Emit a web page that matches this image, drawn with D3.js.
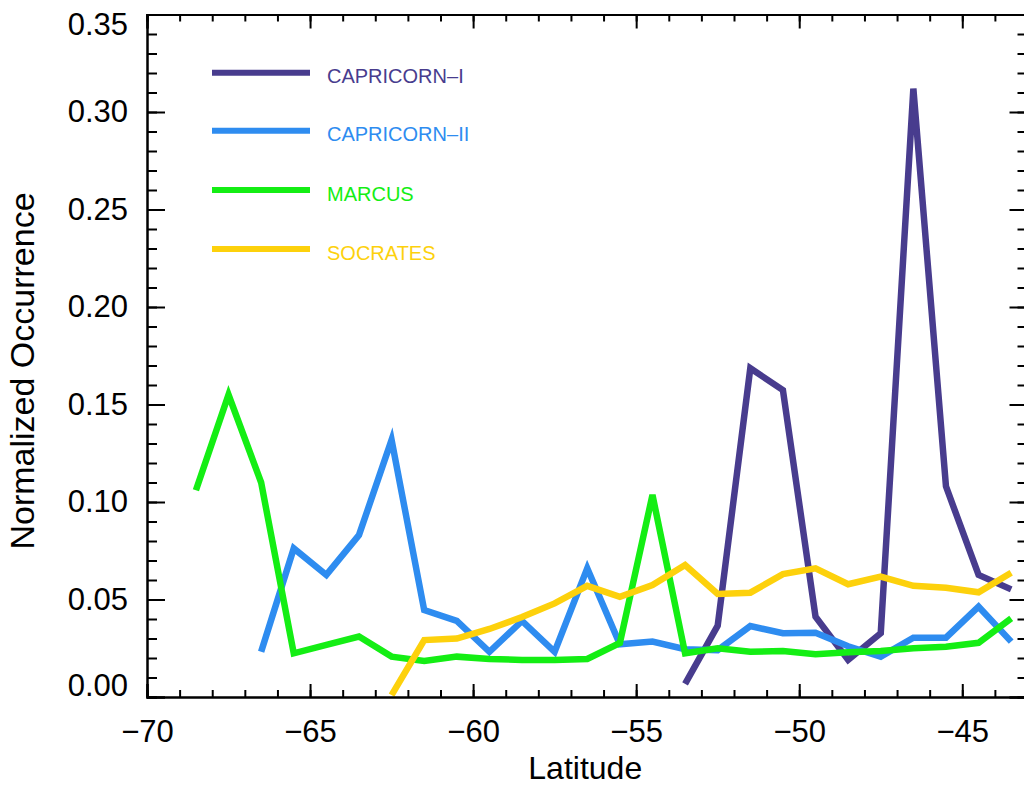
<!DOCTYPE html>
<html>
<head>
<meta charset="utf-8">
<script src="https://cdn.jsdelivr.net/npm/d3@7"></script>
<style>
  html, body { margin: 0; padding: 0; background: #fff; }
  svg { display: block; font-family: "Liberation Sans", Arial, sans-serif; }
</style>
</head>
<body>
<svg id="chart" width="1024" height="787"></svg>
<script>
// Latitude bin centres (degrees)
const latitudes = [-68.5, -67.5, -66.5, -65.5, -64.5, -63.5, -62.5, -61.5, -60.5, -59.5,
                   -58.5, -57.5, -56.5, -55.5, -54.5, -53.5, -52.5, -51.5, -50.5, -49.5,
                   -48.5, -47.5, -46.5, -45.5, -44.5, -43.5];

// Normalized occurrence per campaign (null = no samples in that bin)
const capricorn1 = [null, null, null, null, null, null, null, null, null, null,
                    null, null, null, null, null, 0.0067, 0.0366, 0.1686, 0.1574, 0.0412,
                    0.019, 0.0327, 0.312, 0.108, 0.0626, 0.0552];
const capricorn2 = [null, null, 0.0232, 0.0762, 0.0626, 0.083, 0.1318, 0.0446, 0.039, 0.0232,
                    0.039, 0.0232, 0.066, 0.027, 0.0284, 0.0245, 0.024, 0.0364, 0.0327, 0.033,
                    0.026, 0.0207, 0.0304, 0.0304, 0.0463, 0.0284];
const marcus     = [0.106, 0.155, 0.110, 0.0224, 0.0267, 0.031, 0.0207, 0.0185, 0.0207, 0.0195,
                    0.019, 0.019, 0.0195, 0.0277, 0.1036, 0.0224, 0.025, 0.0232, 0.0236, 0.0219,
                    0.0229, 0.0236, 0.025, 0.0258, 0.0278, 0.0403];
const socrates   = [null, null, null, null, null, null, 0.001, 0.0292, 0.030, 0.0349,
                    0.041, 0.048, 0.057, 0.0514, 0.0574, 0.0677, 0.0528, 0.0535, 0.063, 0.066,
                    0.0578, 0.0617, 0.057, 0.056, 0.0537, 0.0637];

const seriesNames  = ["CAPRICORN\u2013I", "CAPRICORN\u2013II", "MARCUS", "SOCRATES"];
const seriesColors = ["#483c8e", "#2e8cf0", "#14ee14", "#fdd10c"];
const seriesValues = [capricorn1, capricorn2, marcus, socrates];

const xMajorTicks = [-70, -65, -60, -55, -50, -45];
const yMajorTicks = [0.00, 0.05, 0.10, 0.15, 0.20, 0.25, 0.30, 0.35];

const svg = d3.select("#chart");
const plotLeft = 147, plotRight = 1027.5, plotTop = 14.5, plotBottom = 697;

const x = d3.scaleLinear().domain([-70, -43]).range([plotLeft, plotRight]);
const y = d3.scaleLinear().domain([0, 0.35]).range([plotBottom, plotTop]);

const xMinor = d3.range(-70, -42, 1);
const yMinor = d3.range(0, 0.3501, 0.01).map(v => +v.toFixed(2));

// Clip data lines to the plotting box
svg.append("clipPath").attr("id", "plotClip")
  .append("rect").attr("x", plotLeft).attr("y", plotTop)
  .attr("width", plotRight - plotLeft).attr("height", plotBottom - plotTop);

const line = d3.line()
  .defined(d => d[1] != null)
  .x(d => x(d[0]))
  .y(d => y(d[1]));

const plot = svg.append("g").attr("clip-path", "url(#plotClip)");
seriesValues.forEach((vals, i) => {
  plot.append("path")
    .datum(latitudes.map((lat, k) => [lat, vals[k]]))
    .attr("fill", "none")
    .attr("stroke", seriesColors[i])
    .attr("stroke-width", 6.5)
    .attr("d", line);
});

// Axes: ticks point inward on all four sides
function styleAxis(g) {
  g.selectAll("path.domain").attr("stroke", "#000").attr("stroke-width", 2);
  g.selectAll("line").attr("stroke", "#000").attr("stroke-width", 2);
  g.selectAll("text").attr("fill", "#000").style("font-size", "31px")
    .style("font-family", "'Liberation Sans', Arial, sans-serif");
}

// minor ticks
svg.append("g").attr("transform", `translate(0,${plotBottom})`)
  .call(d3.axisBottom(x).tickValues(xMinor).tickSize(-7).tickFormat(""))
  .call(styleAxis);
svg.append("g").attr("transform", `translate(0,${plotTop})`)
  .call(d3.axisTop(x).tickValues(xMinor).tickSize(-7).tickFormat(""))
  .call(styleAxis);
svg.append("g").attr("transform", `translate(${plotLeft},0)`)
  .call(d3.axisLeft(y).tickValues(yMinor).tickSize(-10).tickFormat(""))
  .call(styleAxis);
svg.append("g").attr("transform", `translate(${plotRight},0)`)
  .call(d3.axisRight(y).tickValues(yMinor).tickSize(-10).tickFormat(""))
  .call(styleAxis);

// major ticks with labels
svg.append("g").attr("transform", `translate(0,${plotBottom})`)
  .call(d3.axisBottom(x).tickValues(xMajorTicks).tickSize(-13).tickPadding(23).tickFormat(d3.format("d")))
  .call(styleAxis);
svg.append("g").attr("transform", `translate(0,${plotTop})`)
  .call(d3.axisTop(x).tickValues(xMajorTicks).tickSize(-14).tickFormat(""))
  .call(styleAxis);
const yAxisG = svg.append("g").attr("transform", `translate(${plotLeft},0)`)
  .call(d3.axisLeft(y).tickValues(yMajorTicks).tickSize(-18).tickPadding(19).tickFormat(d3.format(".2f")))
  .call(styleAxis);
svg.append("g").attr("transform", `translate(${plotRight},0)`)
  .call(d3.axisRight(y).tickValues(yMajorTicks).tickSize(-18).tickFormat(""))
  .call(styleAxis);

// keep end labels inside the vertical extent of the box
yAxisG.selectAll(".tick text").attr("y", d => {
  const p = y(d);
  const c = Math.min(Math.max(p, plotTop + 10), plotBottom - 11);
  return c - p;
});

// Axis titles
svg.append("text")
  .attr("x", (plotLeft + plotRight) / 2 - 2).attr("y", 779)
  .attr("text-anchor", "middle")
  .style("font-size", "32px").attr("fill", "#000")
  .text("Latitude");
svg.append("text")
  .attr("transform", "translate(34,371) rotate(-90)")
  .attr("text-anchor", "middle")
  .style("font-size", "34px").attr("fill", "#000")
  .text("Normalized Occurrence");

// Legend
const legendY = [72.7, 130.7, 190, 249];
const legend = svg.append("g");
seriesNames.forEach((name, i) => {
  legend.append("line")
    .attr("x1", 212).attr("x2", 310)
    .attr("y1", legendY[i]).attr("y2", legendY[i])
    .attr("stroke", seriesColors[i]).attr("stroke-width", 6);
  legend.append("text")
    .attr("x", 327).attr("y", legendY[i] + 10.5)
    .style("font-size", "20px")
    .attr("fill", seriesColors[i])
    .text(name);
});
</script>
</body>
</html>
